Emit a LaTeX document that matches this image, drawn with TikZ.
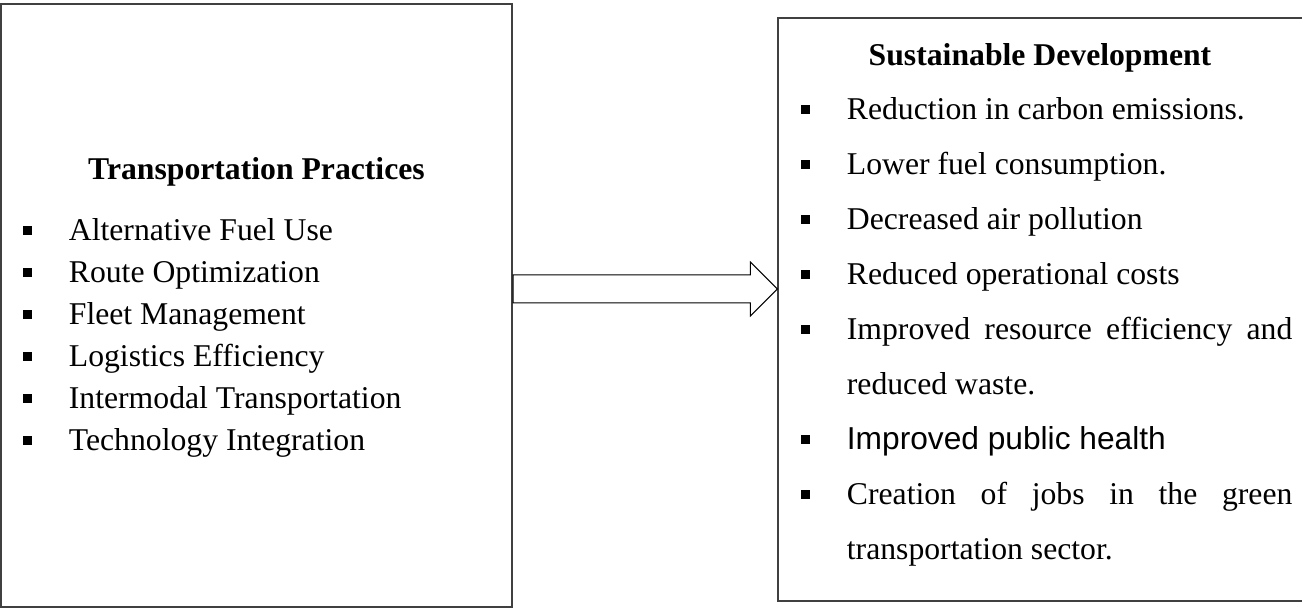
\documentclass[tikz,border=0pt]{standalone}
\usepackage{fontspec}
\setmainfont{Liberation Serif}
\newfontfamily\arialfont{Liberation Sans}
\usetikzlibrary{calc}
\hyphenpenalty=10000
\exhyphenpenalty=10000
\tolerance=9999
\newcommand\sqbul{\rule[3pt]{4.4pt}{4.4pt}}
\newcommand\bul{\hangindent=22.75pt\hangafter=1\makebox[22.75pt][l]{\sqbul}}
\begin{document}
\begin{tikzpicture}[x=0.5pt,y=-0.5pt,line join=miter,
	panel/.style={draw=black!75,inner sep=0pt},
	head/.style={font=\fontsize{15.85}{19}\selectfont\bfseries,anchor=base,inner sep=0pt},
	litem/.style={font=\fontsize{15.85}{21}\selectfont,anchor=base west,inner sep=0pt},
	ritem/.style={font=\fontsize{15.85}{27.5}\selectfont,anchor=base west,inner sep=0pt,text width=245.5pt,align=justify}]
	\useasboundingbox (0,0) rectangle (1302,608);
	% the two panels
	\node[panel,line width=1pt,minimum width=255.5pt,minimum height=301.5pt] (lbox) at (256.5,305.5) {};
	\node[panel,line width=0.6pt,minimum width=262.5pt,minimum height=291.5pt] (rbox) at (1040.5,309.5) {};
	\node[head] (ltitle) at (256.5,180) {Transportation Practices};
	\node[head] (rtitle) at (1040,66) {Sustainable Development};
	\foreach \t [count=\i] in {Alternative Fuel Use,Route Optimization,Fleet Management,Logistics Efficiency,Intermodal Transportation,Technology Integration}
	\node[litem] (l\i) at (23,199+42*\i) {\bul\t};
	\node[ritem] (r1) at (801,120) {\bul Reduction in carbon emissions.\par};
	\node[ritem] (r2) at (801,175) {\bul Lower fuel consumption.\par};
	\node[ritem] (r3) at (801,230) {\bul Decreased air pollution\par};
	\node[ritem] (r4) at (801,285) {\bul Reduced operational costs\par};
	\node[ritem] (r5) at (801,340) {\bul Improved resource efficiency and reduced waste.\par};
	\node[ritem] (r6) at (801,450) {\bul{\arialfont Improved public health}\par};
	\node[ritem] (r7) at (801,505) {\bul Creation of jobs in the green transportation sector.\par};
	% block arrow
	\path (lbox.east |- 0,289) coordinate (atail) (rbox.west |- 0,289) coordinate (atip);
	\draw[line width=0.5pt]
	($(atail)+(0,-14)$) -- ($(atip)+(-27,-14)$) -- ($(atip)+(-27,-27)$) -- (atip)
	-- ($(atip)+(-27,27)$) -- ($(atip)+(-27,14)$) -- ($(atail)+(0,14)$) -- cycle;
\end{tikzpicture}
\end{document}
